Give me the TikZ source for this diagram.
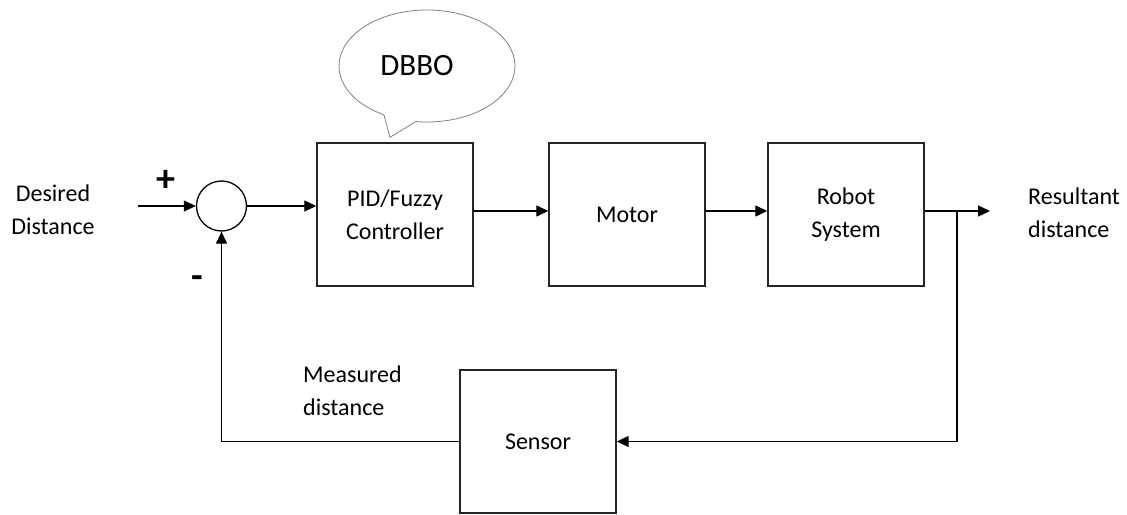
\documentclass[tikz,border=0pt]{standalone}
\usepackage{fontspec}
\setmainfont{Carlito}
\usetikzlibrary{positioning,arrows.meta,shapes.geometric,shapes.callouts}
\newcommand{\lblfont}{\fontsize{24}{33}\selectfont}
\newcommand{\signfont}{\bfseries\fontsize{38}{38}\selectfont}
\tikzset{
    block/.style={rectangle, draw=black!85, line width=1.4pt, minimum width=156pt, minimum height=143pt, text centered, align=center, font=\lblfont},
    sumpoint/.style={circle, draw=black, line width=1.3pt, minimum size=50pt, inner sep=0pt},
    line/.style={-{Triangle[length=12pt,width=11pt]}, line width=1.3pt},
    txt/.style={align=center, font=\lblfont, inner sep=0pt},
}
\begin{document}
\begin{tikzpicture}
        [x=1pt, y=-1pt]
        \useasboundingbox (0,0) rectangle (1127,514);

        \node[sumpoint] (sum) at (221.5,206) {};
        \node[block] (pid) at (395,214.5) {PID/Fuzzy\\Controller};
        \node[block] (motor) at (627,214.5) {Motor};
        \node[block] (robot) at (846,214.5) {Robot\\System};
        \node[block] (sensor) at (538,441.5) {Sensor};

        \node[txt] (desired) at (53,210) {Desired\\Distance};
        \node[txt, align=left, anchor=west] (result) at (1028,213) {Resultant\\distance};
        \node[txt, align=left, anchor=west] (measured) at (303,391) {Measured\\distance};
        \node[font=\signfont] (plus) at (166,181) {+};
        \node[font=\signfont] (minus) at (197,282) {-};

        % optimiser callout above the controller
        \node[ellipse callout, draw=gray, line width=0.8pt, minimum width=176pt, minimum height=112pt,
              callout absolute pointer={([xshift=-5pt,yshift=5pt]pid.north)}, callout pointer arc=22,
              font=\fontsize{31}{31}\selectfont] (dbbo) at (427,66) {DBBO\hspace*{20pt}};

        \coordinate (in) at (138,206);
        \coordinate (fwd) at (0,211);
        \coordinate (out) at (990,211);
        \coordinate (tap) at (957,211);

        \draw[line] (in) -- (sum);
        \draw[line] (sum) -- (pid.west |- sum);
        \draw[line] (pid.east |- fwd) -- (motor.west |- fwd);
        \draw[line] (motor.east |- fwd) -- (robot.west |- fwd);
        \draw[line] (robot.east |- fwd) -- (out);
        \draw[line] (tap) |- (sensor.east);
        \draw[line] (sensor.west) -| (sum.south);

    \end{tikzpicture}
\end{document}
